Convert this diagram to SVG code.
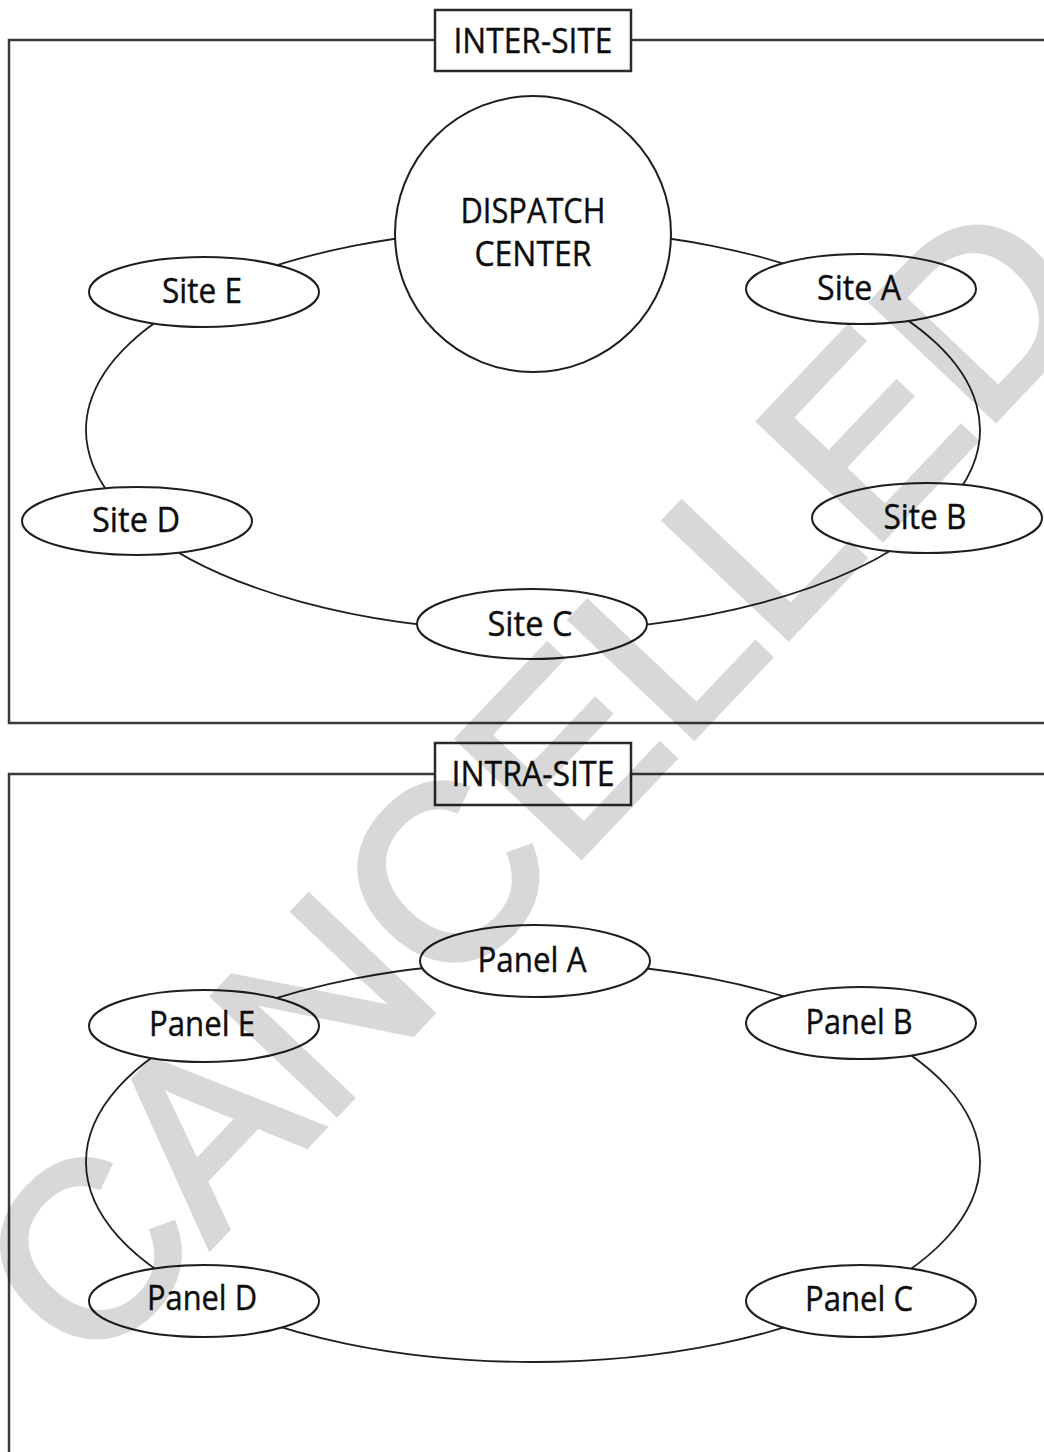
<svg xmlns="http://www.w3.org/2000/svg" width="1044" height="1452" viewBox="0 0 1044 1452">
  <style>
    .frame { fill: none; stroke: #3a3a3a; stroke-width: 2.5; }
    .tag { fill: #fff; stroke: #2a2a2a; stroke-width: 2.5; }
    .node { fill: #fff; stroke: #1e1e1e; stroke-width: 2; }
    .edge { fill: none; stroke: #1e1e1e; stroke-width: 1.8; }
    .lbl { font-family: "Open Sans", "Noto Sans", "Liberation Sans", sans-serif; font-size: 35px; fill: #0d0d0d; text-anchor: middle; stroke: #0d0d0d; stroke-width: 0.4; }
    .stamp { font-family: "Liberation Sans", Arial, sans-serif; font-size: 246px; fill: #000; stroke: #000; stroke-width: 7; stroke-linejoin: miter; text-anchor: middle; }
  </style>

  <rect width="1044" height="1452" fill="#fff"/>

  <!-- section frames (open on the right) -->
  <g id="frames">
    <path class="frame" d="M1046,40 H9 V723 H1046"/>
    <path class="frame" d="M1046,774 H9 V1454"/>
  </g>

  <!-- ring connectors: arcs of one ellipse per section -->
  <g id="connectors">
    <path class="edge" d="M533,229 A447,201 0 0 1 861,293.4"/>
    <path class="edge" d="M861,293.4 A447,201 0 0 1 927,524.9"/>
    <path class="edge" d="M927,524.9 A447,201 0 0 1 532,631"/>
    <path class="edge" d="M532,631 A447,201 0 0 1 137,523.2"/>
    <path class="edge" d="M137,523.2 A447,201 0 0 1 204,293.9"/>
    <path class="edge" d="M204,293.9 A447,201 0 0 1 533,229"/>

    <path class="edge" d="M535,962 A447,200 0 0 1 861,1026.1"/>
    <path class="edge" d="M861,1026.1 A447,200 0 0 1 861,1297.9"/>
    <path class="edge" d="M861,1297.9 A447,200 0 0 1 204,1297.4"/>
    <path class="edge" d="M204,1297.4 A447,200 0 0 1 204,1026.6"/>
    <path class="edge" d="M204,1026.6 A447,200 0 0 1 535,962"/>
  </g>

  <!-- section titles -->
  <g id="title-inter">
    <rect class="tag" x="435" y="10" width="196" height="61"/>
    <text class="lbl" x="533" y="53" textLength="159" lengthAdjust="spacingAndGlyphs">INTER-SITE</text>
  </g>
  <g id="title-intra">
    <rect class="tag" x="435" y="743" width="196" height="62"/>
    <text class="lbl" x="533" y="786" textLength="163" lengthAdjust="spacingAndGlyphs">INTRA-SITE</text>
  </g>

  <!-- inter-site nodes -->
  <g id="dispatch">
    <circle class="node" cx="533" cy="234" r="138"/>
    <text class="lbl" x="533" y="223" textLength="145" lengthAdjust="spacingAndGlyphs">DISPATCH</text>
    <text class="lbl" x="533" y="266" textLength="117" lengthAdjust="spacingAndGlyphs">CENTER</text>
  </g>
  <g id="site-a">
    <ellipse class="node" cx="861" cy="289" rx="115" ry="35"/>
    <text class="lbl" x="859" y="300" textLength="84" lengthAdjust="spacingAndGlyphs">Site A</text>
  </g>
  <g id="site-b">
    <ellipse class="node" cx="927" cy="518" rx="115" ry="35"/>
    <text class="lbl" x="925" y="529" textLength="83" lengthAdjust="spacingAndGlyphs">Site B</text>
  </g>
  <g id="site-c">
    <ellipse class="node" cx="532" cy="624" rx="115" ry="35"/>
    <text class="lbl" x="530" y="636" textLength="85" lengthAdjust="spacingAndGlyphs">Site C</text>
  </g>
  <g id="site-d">
    <ellipse class="node" cx="137" cy="521" rx="115" ry="34"/>
    <text class="lbl" x="136" y="532" textLength="88" lengthAdjust="spacingAndGlyphs">Site D</text>
  </g>
  <g id="site-e">
    <ellipse class="node" cx="204" cy="292" rx="115" ry="35"/>
    <text class="lbl" x="202" y="303" textLength="80" lengthAdjust="spacingAndGlyphs">Site E</text>
  </g>

  <!-- intra-site nodes -->
  <g id="panel-a">
    <ellipse class="node" cx="535" cy="961" rx="115" ry="36"/>
    <text class="lbl" x="532" y="972" textLength="109" lengthAdjust="spacingAndGlyphs">Panel A</text>
  </g>
  <g id="panel-b">
    <ellipse class="node" cx="861" cy="1023" rx="115" ry="36"/>
    <text class="lbl" x="859" y="1034" textLength="107" lengthAdjust="spacingAndGlyphs">Panel B</text>
  </g>
  <g id="panel-c">
    <ellipse class="node" cx="861" cy="1301" rx="115" ry="36"/>
    <text class="lbl" x="859" y="1311" textLength="108" lengthAdjust="spacingAndGlyphs">Panel C</text>
  </g>
  <g id="panel-d">
    <ellipse class="node" cx="204" cy="1301" rx="115" ry="36"/>
    <text class="lbl" x="202" y="1310" textLength="110" lengthAdjust="spacingAndGlyphs">Panel D</text>
  </g>
  <g id="panel-e">
    <ellipse class="node" cx="204" cy="1026" rx="115" ry="36"/>
    <text class="lbl" x="202" y="1036" textLength="106" lengthAdjust="spacingAndGlyphs">Panel E</text>
  </g>

  <!-- diagonal stamp over the whole sheet, composited as one translucent layer -->
  <g id="stamp" opacity="0.15">
    <text class="stamp" x="596" y="840" transform="rotate(-46.5 596 840)">CANCELLED</text>
  </g>
</svg>
